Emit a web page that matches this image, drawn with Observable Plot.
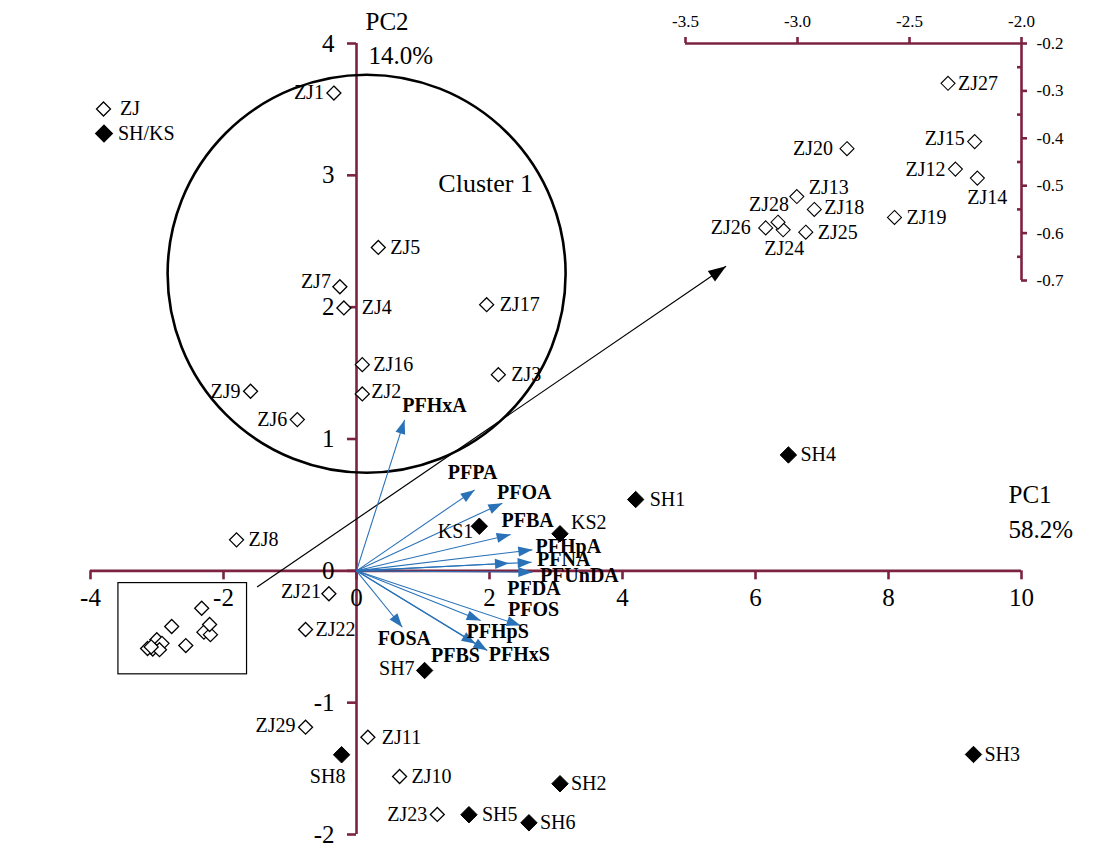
<!DOCTYPE html>
<html>
<head>
<meta charset="utf-8">
<script src="https://cdn.jsdelivr.net/npm/d3@7"></script>
<script src="https://cdn.jsdelivr.net/npm/@observablehq/plot@0.6"></script>
<style>
  body { margin: 0; background: #fff; }
  #wrap { position: relative; width: 1105px; height: 850px; font-family: "Liberation Serif", "Times New Roman", serif; background: #fff; }
  #wrap > svg { position: absolute; left: 0; top: 0; }
  #legend { position: absolute; left: 0; top: 0; }
</style>
</head>
<body>
<div id="wrap"></div>
<script>
// ---------------- DATA ----------------
const sampleNames = ["ZJ1","ZJ2","ZJ3","ZJ4","ZJ5","ZJ6","ZJ7","ZJ8","ZJ9","ZJ10","ZJ11","ZJ12","ZJ13","ZJ14","ZJ15","ZJ16","ZJ17","ZJ18","ZJ19","ZJ20","ZJ21","ZJ22","ZJ23","ZJ24","ZJ25","ZJ26","ZJ27","ZJ28","ZJ29","SH1","SH2","SH3","SH4","SH5","SH6","SH7","SH8","KS1","KS2"];
const samplePC1 = [-0.340,0.087,2.133,-0.190,0.328,-0.890,-0.250,-1.804,-1.593,0.648,0.171,-2.295,-3.003,-2.197,-2.209,0.087,1.957,-2.925,-2.567,-2.779,-0.415,-0.766,1.215,-3.064,-2.963,-3.142,-2.328,-3.087,-0.766,4.198,3.060,9.278,6.495,1.691,2.593,1.024,-0.224,1.847,3.060];
const samplePC2 = [3.624,1.342,1.488,1.994,2.453,1.147,2.155,0.235,1.362,-1.560,-1.262,-0.465,-0.523,-0.484,-0.407,1.564,2.019,-0.550,-0.567,-0.422,-0.174,-0.445,-1.848,-0.593,-0.598,-0.589,-0.284,-0.577,-1.186,0.541,-1.615,-1.393,0.879,-1.850,-1.911,-0.756,-1.395,0.338,0.281];
const sampleGroup = sampleNames.map(n => n.startsWith("ZJ") ? "ZJ" : "SH/KS");
const insetNames = ["ZJ12","ZJ13","ZJ14","ZJ15","ZJ18","ZJ19","ZJ20","ZJ24","ZJ25","ZJ26","ZJ27","ZJ28"];

const loadingNames = ["PFHxA","PFPA","PFOA","PFBA","PFHpA","PFNA","PFDA","PFUnDA","PFOS","PFHpS","PFHxS","PFBS","FOSA"];
const loadingPC1 = [0.723,1.777,2.193,2.318,2.644,2.634,2.293,2.644,2.468,1.867,1.967,1.790,0.689];
const loadingPC2 = [1.145,0.614,0.513,0.275,0.159,0.065,0.058,-0.010,-0.415,-0.377,-0.604,-0.553,-0.428];

const xTicks = [-4,-2,0,2,4,6,8,10];
const xTickLabels = ["-4","-2","0","2","4","6","8","10"];
const yTicks = [-2,-1,0,1,2,3,4];
const yTickLabels = ["-2","-1","0","1","2","3","4"];
const insetXTicks = [-3.5,-3.0,-2.5,-2.0];
const insetXTickLabels = ["-3.5","-3.0","-2.5","-2.0"];
const insetYTicks = [-0.2,-0.3,-0.4,-0.5,-0.6,-0.7];
const insetYTickLabels = ["-0.2","-0.3","-0.4","-0.5","-0.6","-0.7"];
const insetYMinor = [-0.25,-0.35,-0.45,-0.55,-0.65];

const cluster = [{x: 0.152, y: 2.254, label: "Cluster 1", lx: 1.942, ly: 2.936}];
const zoomBox = [{x1: -3.58, x2: -1.646, y1: -0.785, y2: -0.093}];
const zoomArrow = [{x1: -1.495, y1: -0.123, x2: 5.557, y2: 2.311}];
const axisTitles = {pc1: ["PC1", "58.2%"], pc2: ["PC2", "14.0%"]};

// ---------------- STYLE / LAYOUT ----------------
const W = 1105, H = 850;
const M = {left: 90, right: 84, top: 43, bottom: 16};
const xDomain = [-4, 10], yDomain = [-2, 4];
const kx = (W - M.left - M.right) / (xDomain[1] - xDomain[0]);
const ky = (H - M.top - M.bottom) / (yDomain[1] - yDomain[0]);
const IM = {left: 685, right: 84, top: 43, bottom: 570};
const ixDomain = [-3.5, -2.0], iyDomain = [-0.7, -0.2];
const axisColor = "#7b2340";
const blue = "#2a72b8";
const font = "Liberation Serif, Times New Roman, serif";

// label nudges [dx, dy, anchor]
const mainLabelPos = {
  ZJ1: [-10, 0, "end"], ZJ2: [9, -2, "start"], ZJ3: [13, 0, "start"], ZJ4: [18, 0, "start"],
  ZJ5: [12, 0, "start"], ZJ6: [-10, 0, "end"], ZJ7: [-9, -5, "end"], ZJ8: [12, 0, "start"],
  ZJ9: [-10, 0, "end"], ZJ10: [12, 0, "start"], ZJ11: [14, 0, "start"], ZJ16: [11, 0, "start"],
  ZJ17: [13, 0, "start"], ZJ21: [-8, -2, "end"], ZJ22: [10, 0, "start"], ZJ23: [-10, 0, "end"],
  ZJ29: [-10, -2, "end"], SH1: [14, 0, "start"], SH2: [11, 0, "start"], SH3: [11, 0, "start"],
  SH4: [12, 0, "start"], SH5: [13, 0, "start"], SH6: [11, 0, "start"], SH7: [-10, -2, "end"],
  SH8: [-14, 22, "middle"], KS1: [-6, 5, "end"], KS2: [11, -11, "start"]
};
const insetLabelPos = {
  ZJ12: [-10, 0, "end"], ZJ13: [12, -9, "start"], ZJ14: [10, 19, "middle"], ZJ15: [-10, -3, "end"],
  ZJ18: [10, -2, "start"], ZJ19: [12, 0, "start"], ZJ20: [-14, 0, "end"], ZJ24: [1, 19, "middle"],
  ZJ25: [12, 0, "start"], ZJ26: [-15, 0, "end"], ZJ27: [10, 0, "start"], ZJ28: [11, -18, "end"]
};
const loadingLabelPos = {
  PFHxA: [30, -14], PFPA: [-2, -17], PFOA: [22, -11], PFBA: [17, -14], PFHpA: [36, -3],
  PFNA: [32, -3], PFDA: [25, 25], PFUnDA: [47, 3], PFOS: [13, -16], PFHpS: [17, 11],
  PFHxS: [32, 4], PFBS: [-20, 12], FOSA: [2, 11]
};

// ---------------- BUILD ----------------
const samples = sampleNames.map((n, i) => ({name: n, x: samplePC1[i], y: samplePC2[i], group: sampleGroup[i]}));
const loadings = loadingNames.map((n, i) => ({name: n, x: loadingPC1[i], y: loadingPC2[i]}));
const insetSamples = samples.filter(d => insetNames.includes(d.name));

const headSymbol = {
  draw(ctx, size) {
    const l = Math.sqrt(size), w = l * 0.36;
    ctx.moveTo(0, 0); ctx.lineTo(-l, -w); ctx.lineTo(-l, w); ctx.closePath();
  }
};
const angle = (dx, dy) => Math.atan2(-dy * ky, dx * kx) * 180 / Math.PI;

const labelMarks = samples.filter(d => mainLabelPos[d.name]).map(d => {
  const [dx, dy, anchor] = mainLabelPos[d.name];
  return Plot.text([d], {x: "x", y: "y", text: "name", dx, dy, textAnchor: anchor, fontSize: 20, fill: "black"});
});
const loadingLabelMarks = loadings.map(d => {
  const [dx, dy] = loadingLabelPos[d.name];
  return Plot.text([d], {x: "x", y: "y", text: "name", dx, dy, textAnchor: "middle", fontSize: 20, fontWeight: "bold", fill: "black"});
});

const main = Plot.plot({
  width: W, height: H,
  marginLeft: M.left, marginRight: M.right, marginTop: M.top, marginBottom: M.bottom,
  x: {domain: xDomain, axis: null},
  y: {domain: yDomain, axis: null},
  style: {fontFamily: font, background: "transparent", overflow: "visible"},
  marks: [
    // axes
    Plot.ruleY([0], {x1: xDomain[0], x2: xDomain[1], stroke: axisColor, strokeWidth: 2.6}),
    Plot.ruleX([0], {y1: yDomain[0], y2: yDomain[1], stroke: axisColor, strokeWidth: 2.6}),
    Plot.ruleX(xTicks, {x: d => d, y1: 0, y2: 0, insetBottom: -9, stroke: axisColor, strokeWidth: 2.6}),
    Plot.ruleY(yTicks, {y: d => d, x1: 0, x2: 0, insetLeft: -9, stroke: axisColor, strokeWidth: 2.6}),
    Plot.text(xTicks, {x: d => d, y: 0, text: (d, i) => xTickLabels[i], dy: 27, fontSize: 25, fill: "black"}),
    Plot.text(yTicks, {x: 0, y: d => d, text: (d, i) => yTickLabels[i], dx: -22, textAnchor: "end", fontSize: 25, fill: "black"}),
    Plot.text([axisTitles.pc2[0]], {x: 0, y: yDomain[1], text: d => d, dx: 9, dy: -22, textAnchor: "start", fontSize: 25}),
    Plot.text([axisTitles.pc2[1]], {x: 0, y: yDomain[1], text: d => d, dx: 12, dy: 12, textAnchor: "start", fontSize: 25}),
    Plot.text([axisTitles.pc1[0]], {x: xDomain[1], y: 0, text: d => d, dx: -13, dy: -76, textAnchor: "start", fontSize: 25}),
    Plot.text([axisTitles.pc1[1]], {x: xDomain[1], y: 0, text: d => d, dx: -13, dy: -41, textAnchor: "start", fontSize: 25}),
    // cluster circle and label
    Plot.dot(cluster, {x: "x", y: "y", r: 199, fill: "none", stroke: "black", strokeWidth: 2.6}),
    Plot.text(cluster, {x: "lx", y: "ly", text: "label", fontSize: 26}),
    // zoom box + arrow
    Plot.rect(zoomBox, {x1: "x1", x2: "x2", y1: "y1", y2: "y2", fill: "none", stroke: "black", strokeWidth: 1.2}),
    Plot.link(zoomArrow, {x1: "x1", y1: "y1", x2: "x2", y2: "y2", stroke: "black", strokeWidth: 1.2}),
    Plot.dot(zoomArrow, {x: "x2", y: "y2", symbol: headSymbol, r: 10, fill: "black", stroke: "none",
      rotate: d => angle(d.x2 - d.x1, d.y2 - d.y1)}),
    // loadings
    Plot.link(loadings, {x1: 0, y1: 0, x2: "x", y2: "y", stroke: blue, strokeWidth: 1.1}),
    Plot.dot(loadings, {x: "x", y: "y", symbol: headSymbol, r: 7.9, fill: blue, stroke: "none",
      rotate: d => angle(d.x, d.y)}),
    ...loadingLabelMarks,
    // samples
    Plot.dot(samples.filter(d => d.group === "ZJ"), {x: "x", y: "y", symbol: "diamond2", r: 6.3, fill: "white", stroke: "black", strokeWidth: 1.3}),
    Plot.dot(samples.filter(d => d.group !== "ZJ"), {x: "x", y: "y", symbol: "diamond2", r: 7.4, fill: "black", stroke: "black", strokeWidth: 1}),
    ...labelMarks
  ]
});
main.setAttribute("class", (main.getAttribute("class") || "") + " layer");

const insetLabelMarks = insetSamples.map(d => {
  const [dx, dy, anchor] = insetLabelPos[d.name];
  return Plot.text([d], {x: "x", y: "y", text: "name", dx, dy, textAnchor: anchor, fontSize: 20, fill: "black"});
});

const inset = Plot.plot({
  width: W, height: H,
  marginLeft: IM.left, marginRight: IM.right, marginTop: IM.top, marginBottom: IM.bottom,
  x: {domain: ixDomain, axis: null},
  y: {domain: iyDomain, axis: null},
  style: {fontFamily: font, background: "transparent", overflow: "visible"},
  marks: [
    Plot.ruleY([iyDomain[1]], {x1: ixDomain[0], x2: ixDomain[1], stroke: axisColor, strokeWidth: 2.6}),
    Plot.ruleX([ixDomain[1]], {y1: iyDomain[0], y2: iyDomain[1], stroke: axisColor, strokeWidth: 2.6}),
    Plot.ruleX(insetXTicks, {x: d => d, y1: iyDomain[1], y2: iyDomain[1], insetTop: -6, stroke: axisColor, strokeWidth: 2.6}),
    Plot.ruleY(insetYTicks, {y: d => d, x1: ixDomain[1], x2: ixDomain[1], insetRight: -6, stroke: axisColor, strokeWidth: 2.6}),
    Plot.ruleY(insetYMinor, {y: d => d, x1: ixDomain[1], x2: ixDomain[1], insetLeft: -4, stroke: axisColor, strokeWidth: 2.6}),
    Plot.text(insetXTicks, {x: d => d, y: iyDomain[1], text: (d, i) => insetXTickLabels[i], dy: -22, fontSize: 17, fill: "black"}),
    Plot.text(insetYTicks, {x: ixDomain[1], y: d => d, text: (d, i) => insetYTickLabels[i], dx: 15, textAnchor: "start", fontSize: 17, fill: "black"}),
    Plot.dot(insetSamples, {x: "x", y: "y", symbol: "diamond2", r: 6.3, fill: "white", stroke: "black", strokeWidth: 1.1}),
    ...insetLabelMarks
  ]
});

const wrap = document.getElementById("wrap");
wrap.appendChild(main);
wrap.appendChild(inset);

// legend
const groups = ["ZJ", "SH/KS"];
const legend = d3.select(wrap).append("svg").attr("id", "legend").attr("width", 240).attr("height", 160)
  .style("font-family", font);
groups.forEach((g, i) => {
  const cy = 109 + i * 24.5, cx = 103.5 + i * 0.5, h = i === 0 ? 7 : 8.3;
  legend.append("path")
    .attr("d", `M${cx},${cy - h}L${cx + h},${cy}L${cx},${cy + h}L${cx - h},${cy}Z`)
    .attr("fill", i === 0 ? "white" : "black").attr("stroke", "black").attr("stroke-width", 1.3);
  legend.append("text").attr("x", i === 0 ? 120 : 118).attr("y", cy).attr("dy", "0.32em")
    .attr("font-size", 20).text(g);
});
</script>
</body>
</html>
